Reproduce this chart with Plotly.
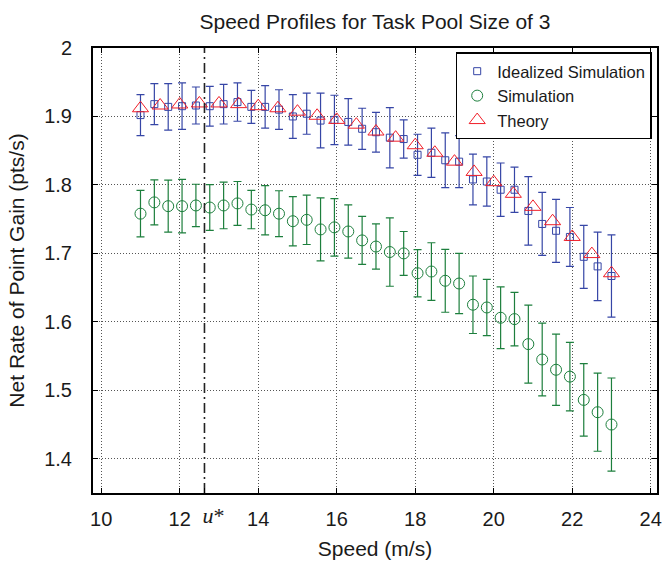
import plotly.graph_objects as go

# ---------------- data ----------------
SPEED = [11.000, 11.353, 11.706, 12.059, 12.412, 12.765, 13.118, 13.471, 13.824,
         14.176, 14.529, 14.882, 15.235, 15.588, 15.941, 16.294, 16.647, 17.000,
         17.353, 17.706, 18.059, 18.412, 18.765, 19.118, 19.471, 19.824, 20.176,
         20.529, 20.882, 21.235, 21.588, 21.941, 22.294, 22.647, 23.000]

IDEAL_Y = [1.902, 1.918, 1.914, 1.915, 1.916, 1.915, 1.918, 1.921, 1.914,
           1.914, 1.910, 1.900, 1.904, 1.894, 1.895, 1.892, 1.882, 1.877,
           1.869, 1.867, 1.844, 1.847, 1.836, 1.834, 1.808, 1.805, 1.793,
           1.793, 1.762, 1.743, 1.733, 1.724, 1.695, 1.681, 1.667]
IDEAL_ERR = [0.030, 0.030, 0.034, 0.034, 0.027, 0.029, 0.029, 0.028, 0.024,
             0.031, 0.029, 0.032, 0.030, 0.040, 0.036, 0.034, 0.030, 0.029,
             0.044, 0.028, 0.030, 0.036, 0.040, 0.038, 0.037, 0.036, 0.039,
             0.033, 0.050, 0.046, 0.046, 0.043, 0.046, 0.050, 0.060]

SIM_Y = [1.758, 1.7745, 1.769, 1.769, 1.770, 1.767, 1.770, 1.773, 1.764,
         1.763, 1.758, 1.747, 1.749, 1.735, 1.738, 1.732, 1.719, 1.710,
         1.702, 1.700, 1.671, 1.6735, 1.660, 1.656, 1.625, 1.621, 1.606,
         1.604, 1.5675, 1.545, 1.530, 1.520, 1.486, 1.468, 1.450]
SIM_ERR = [0.034, 0.033, 0.038, 0.039, 0.031, 0.0335, 0.034, 0.032, 0.028,
           0.036, 0.0335, 0.036, 0.036, 0.046, 0.042, 0.039, 0.035, 0.033,
           0.050, 0.032, 0.0345, 0.042, 0.046, 0.044, 0.042, 0.041, 0.045,
           0.039, 0.057, 0.053, 0.052, 0.050, 0.053, 0.057, 0.068]

THEORY_X = [11.0, 11.5, 12.0, 12.5, 13.0, 13.5, 14.0, 14.5, 15.0, 15.5, 16.0,
            16.5, 17.0, 17.5, 18.0, 18.5, 19.0, 19.5, 20.0, 20.5, 21.0, 21.5,
            22.0, 22.5, 23.0]
THEORY_Y = [1.912, 1.916, 1.9175, 1.919, 1.919, 1.918, 1.915, 1.912, 1.907,
            1.901, 1.895, 1.888, 1.878, 1.869, 1.858, 1.847, 1.834, 1.819,
            1.804, 1.787, 1.768, 1.747, 1.724, 1.699, 1.671]

U_STAR = 12.63
X_TICKS = [10, 12, 14, 16, 18, 20, 22, 24]
X_RANGE = [9.79, 24.16]
Y_RANGE = [1.35, 2.0]

# ---------------- styles ----------------
BLUE = "#3646a6"
GREEN = "#1d7f3d"
RED = "#f01e28"
FONT = "Liberation Sans, Arial, Helvetica, sans-serif"

fig = go.Figure()

fig.add_trace(go.Scatter(
    x=SPEED, y=IDEAL_Y, mode="markers", name="Idealized Simulation",
    marker=dict(symbol="square-open", size=7, color=BLUE, line=dict(width=1, color=BLUE)),
    error_y=dict(type="data", array=IDEAL_ERR, visible=True, color=BLUE, thickness=1.2, width=4),
))
fig.add_trace(go.Scatter(
    x=SPEED, y=SIM_Y, mode="markers", name="Simulation",
    marker=dict(symbol="circle-open", size=11, color=GREEN, line=dict(width=1, color=GREEN)),
    error_y=dict(type="data", array=SIM_ERR, visible=True, color=GREEN, thickness=1.2, width=4),
))
fig.add_trace(go.Scatter(
    x=THEORY_X, y=THEORY_Y, mode="markers", name="Theory",
    marker=dict(symbol="triangle-up-open", size=14, color=RED, line=dict(width=1, color=RED)),
))
# u* vertical dash-dot line (on overlay axis carrying the u* tick)
fig.add_trace(go.Scatter(
    x=[U_STAR, U_STAR], y=Y_RANGE, xaxis="x2", mode="lines", showlegend=False,
    hoverinfo="skip", line=dict(color="#222222", width=1.6, dash="10px,4px,2px,4px"),
))

axis_common = dict(
    showline=True, linecolor="black", linewidth=2, mirror="ticks",
    ticks="inside", ticklen=5, tickcolor="black", tickwidth=1,
    zeroline=False, automargin=False,
    showgrid=True, gridcolor="#555555", gridwidth=1, griddash="1px,2px",
    tickfont=dict(family=FONT, size=20, color="#1a1a1a"),
)

fig.update_layout(
    width=662, height=564,
    margin=dict(l=93, r=5, t=48, b=71),
    paper_bgcolor="white", plot_bgcolor="white",
    font=dict(family=FONT, color="#1a1a1a"),
    title=dict(text="Speed Profiles for Task Pool Size of 3", x=0.5, xref="paper",
               y=1 - 22 / 564, yref="container", yanchor="middle", xanchor="center",
               font=dict(family=FONT, size=21, color="#1a1a1a")),
    xaxis=dict(range=X_RANGE, tickvals=X_TICKS, ticklabelstandoff=7,
               title=dict(text="Speed (m/s)", font=dict(family=FONT, size=21), standoff=12),
               **axis_common),
    xaxis2=dict(range=X_RANGE, overlaying="x", anchor="y", side="bottom",
                tickvals=[U_STAR], ticktext=["<i>u</i>*"], showgrid=False, showline=False,
                ticks="inside", ticklen=5, tickcolor="black", zeroline=False,
                ticklabelstandoff=7, ticklabelshift=9, automargin=False,
                tickfont=dict(family="Liberation Serif, Times New Roman, serif", size=22, color="#1a1a1a")),
    yaxis=dict(range=Y_RANGE, dtick=0.1, tick0=1.4, ticklabelstandoff=15,
               title=dict(text="Net Rate of Point Gain (pts/s)", font=dict(family=FONT, size=21), standoff=14),
               **axis_common),
    legend=dict(x=0.9906, xanchor="right", y=0.99, yanchor="top",
                bgcolor="white", bordercolor="black", borderwidth=1.5,
                font=dict(family=FONT, size=16.5, color="#1a1a1a"),
                tracegroupgap=0, itemsizing="trace"),
    showlegend=True,
)

fig.write_html("out.html", config={"displayModeBar": False},
               post_script="document.body.style.margin='0';")
